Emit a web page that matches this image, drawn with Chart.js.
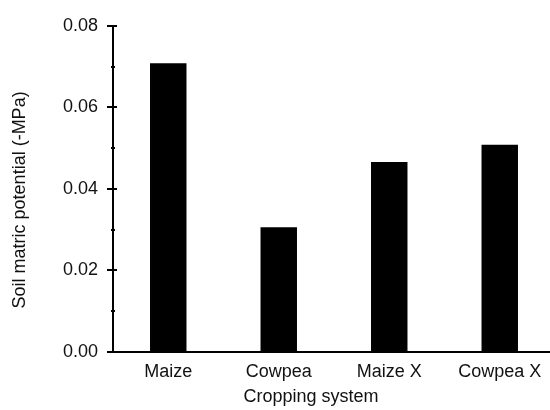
<!DOCTYPE html>
<html>
<head>
<meta charset="utf-8">
<script src="https://cdn.jsdelivr.net/npm/chart.js@4/dist/chart.umd.min.js"></script>
<style>
  html, body { margin: 0; padding: 0; background: #fff; overflow: hidden; }
  #wrap { width: 555px; height: 410px; position: relative; }
</style>
</head>
<body>
<div id="wrap"><canvas id="chart"></canvas></div>
<script>
// Soil matric potential by cropping system
const categories = ['Maize', 'Cowpea', 'Maize X', 'Cowpea X'];
const potential = [0.0708, 0.0306, 0.0466, 0.0508];
const yTicks = [0, 0.01, 0.02, 0.03, 0.04, 0.05, 0.06, 0.07, 0.08];
const xTitle = 'Cropping system';
const yTitle = 'Soil matric potential (-MPa)';

const FONT = '"Liberation Sans", Arial, sans-serif';

// Major ticks cross the axis; minor ticks are short stubs.
const axisDecor = {
  id: 'axisDecor',
  afterDraw(chart) {
    const { ctx, scales: { x, y } } = chart;
    const ax = y.right;
    ctx.save();
    ctx.strokeStyle = '#000';
    ctx.lineWidth = 2;
    yTicks.forEach(v => {
      const py = Math.round(y.getPixelForValue(v));
      const major = Math.round(v * 100) % 2 === 0;
      ctx.beginPath();
      ctx.moveTo(ax - (major ? 6 : 2), py);
      ctx.lineTo(ax + (major ? 4 : 2), py);
      ctx.stroke();
    });
    ctx.fillStyle = '#111';
    ctx.font = '18px ' + FONT;
    ctx.textAlign = 'center';
    ctx.textBaseline = 'middle';
    ctx.fillText(xTitle, (x.left + x.right) / 2 - 23, 397);
    ctx.translate(20, (y.top + y.bottom) / 2 + 11);
    ctx.rotate(-Math.PI / 2);
    ctx.fillText(yTitle, 0, 0);
    ctx.restore();
  }
};

new Chart(document.getElementById('chart'), {
  type: 'bar',
  data: {
    labels: categories,
    datasets: [{
      data: potential,
      backgroundColor: '#000',
      borderWidth: 0,
      barPercentage: 0.33,
      categoryPercentage: 1
    }]
  },
  options: {
    responsive: true,
    maintainAspectRatio: false,
    animation: false,
    layout: { padding: { top: 23, right: 0, left: 0, bottom: 0 } },
    plugins: { legend: { display: false }, tooltip: { enabled: false } },
    scales: {
      x: {
        grid: { display: false, drawTicks: false },
        border: { color: '#000', width: 2 },
        ticks: { color: '#111', font: { family: FONT, size: 18 }, padding: 9, maxRotation: 0 },
        afterFit(scale) { scale.height = 58; }
      },
      y: {
        min: 0,
        max: 0.08,
        grid: { display: false, drawTicks: false },
        border: { color: '#000', width: 2 },
        afterBuildTicks(scale) { scale.ticks = yTicks.map(v => ({ value: v })); },
        ticks: {
          color: '#111',
          font: { family: FONT, size: 18 },
          padding: 15,
          autoSkip: false,
          callback: v => (Math.round(v * 100) % 2 === 0 ? v.toFixed(2) : '')
        },
        afterFit(scale) { scale.width = 113; }
      }
    }
  },
  plugins: [axisDecor]
});
</script>
</body>
</html>
